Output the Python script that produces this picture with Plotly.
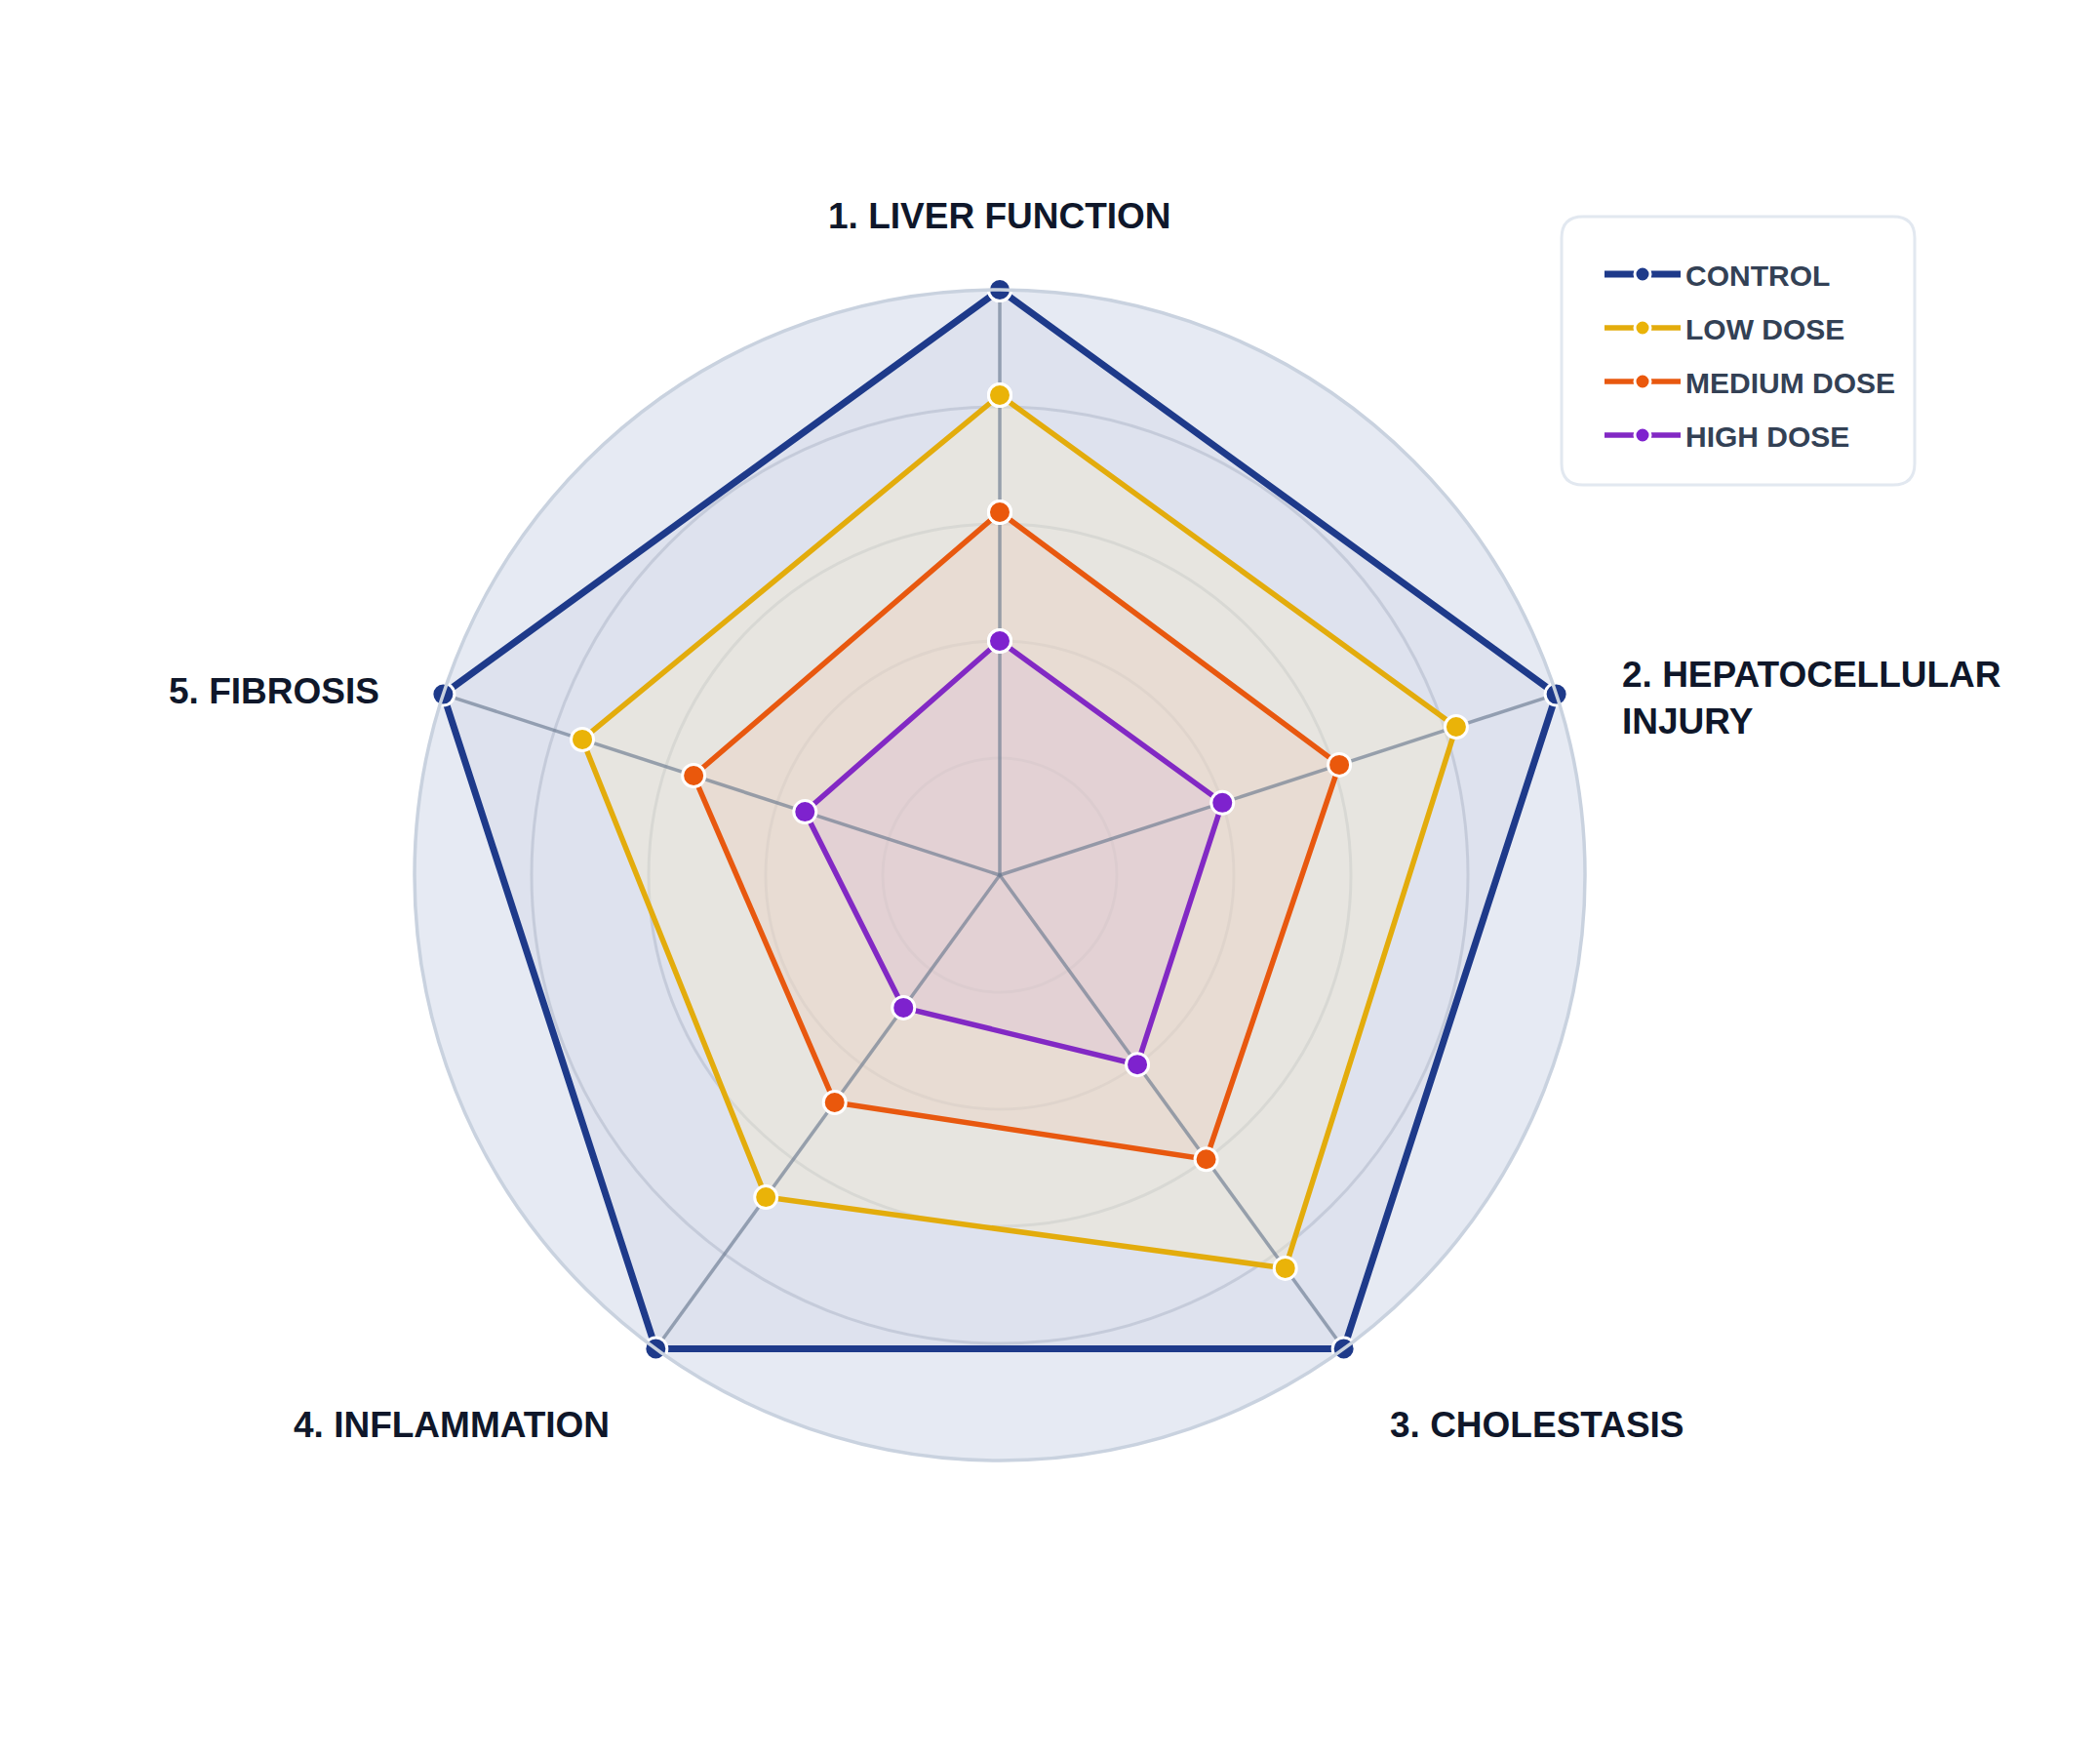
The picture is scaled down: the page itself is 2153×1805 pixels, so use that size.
import plotly.graph_objects as go

# axes / categories
categories = ["1. LIVER FUNCTION", "2. HEPATOCELLULAR<br>INJURY", "3. CHOLESTASIS",
              "4. INFLAMMATION", "5. FIBROSIS"]

# series values (0-100 scale)
control = [100, 100, 100, 100, 100]
low_dose = [82, 82, 83, 68, 75]
medium_dose = [62, 61, 60, 48, 55]
high_dose = [40, 40, 40, 28, 35]

series_names = ["CONTROL", "LOW DOSE", "MEDIUM DOSE", "HIGH DOSE"]
series_values = [control, low_dose, medium_dose, high_dose]
line_colors = ["#1e3a8a", "#e3ac0c", "#e8580f", "#8229c4"]
marker_colors = ["#1e3a8a", "#eab308", "#ea580c", "#7e22ce"]
fill_colors = ["rgba(30,58,138,0.04)", "rgba(245,236,203,0.4)",
               "rgba(234,208,192,0.4)", "rgba(215,184,214,0.3)"]
line_widths = [7, 5.5, 5.5, 5.5]

W, H = 2153, 1805
CX, CY, R = 1017, 889, 600  # polar centre / radius in px

fig = go.Figure()

# 1) filled areas
for i, name in enumerate(series_names):
    vals = series_values[i]
    fig.add_trace(go.Scatterpolar(
        r=vals + vals[:1], theta=categories + categories[:1],
        mode="none", fill="toself", fillcolor=fill_colors[i],
        showlegend=False, hoverinfo="skip",
    ))

# 2) spokes on top of the fills
for cat in categories:
    fig.add_trace(go.Scatterpolar(
        r=[0, 100], theta=[cat, cat], mode="lines",
        line=dict(color="rgba(100,116,139,0.62)", width=3.5),
        showlegend=False, hoverinfo="skip",
    ))

# 3) outlines + markers
for i, name in enumerate(series_names):
    vals = series_values[i]
    fig.add_trace(go.Scatterpolar(
        r=vals + vals[:1], theta=categories + categories[:1],
        name=name, legendgroup=name,
        mode="lines+markers",
        line=dict(color=line_colors[i], width=line_widths[i]),
        marker=dict(size=23, color=marker_colors[i], line=dict(color="white", width=3)),
    ))

# axis labels as annotations (px positions)
label_pos = [(CX, 213, "center"), (1653, 707, "left"), (1415, 1452, "left"),
             (619, 1452, "right"), (383, 701, "right")]
for text, (lx, ly, anchor) in zip(categories, label_pos):
    fig.add_annotation(x=lx / W, y=1 - ly / H, xref="paper", yref="paper",
                       text=text, showarrow=False, xanchor=anchor, yanchor="middle",
                       align="left",
                       font=dict(size=37, color="#0f172a", weight="bold"))


# rounded legend box (drawn as a shape)
def rounded_box(x0, y0, x1, y1, rad):
    px = lambda v: v / W
    py = lambda v: 1 - v / H
    return (f"M {px(x0 + rad)},{py(y0)} L {px(x1 - rad)},{py(y0)} "
            f"Q {px(x1)},{py(y0)} {px(x1)},{py(y0 + rad)} L {px(x1)},{py(y1 - rad)} "
            f"Q {px(x1)},{py(y1)} {px(x1 - rad)},{py(y1)} L {px(x0 + rad)},{py(y1)} "
            f"Q {px(x0)},{py(y1)} {px(x0)},{py(y1 - rad)} L {px(x0)},{py(y0 + rad)} "
            f"Q {px(x0)},{py(y0)} {px(x0 + rad)},{py(y0)} Z")


fig.add_shape(type="path", xref="paper", yref="paper",
              path=rounded_box(1593, 214, 1955, 489, 22),
              fillcolor="white", line=dict(color="#e2e8f0", width=3), layer="below")

fig.update_layout(
    width=W, height=H,
    margin=dict(l=0, r=0, t=0, b=0),
    paper_bgcolor="white",
    font=dict(family="Liberation Sans, Arial, sans-serif"),
    polar=dict(
        domain=dict(x=[(CX - R) / W, (CX + R) / W], y=[1 - (CY + R) / H, 1 - (CY - R) / H]),
        bgcolor="#e6eaf3",
        angularaxis=dict(
            direction="clockwise", rotation=90,
            showline=True, linecolor="#c9d2df", linewidth=3.5,
            showgrid=False, showticklabels=False, ticks="",
        ),
        radialaxis=dict(
            range=[0, 100], tickvals=[20, 40, 60, 80, 100],
            showticklabels=False, ticks="", showline=False,
            gridcolor="rgba(148,155,175,0.3)", gridwidth=2.5,
        ),
    ),
    showlegend=True,
    legend=dict(
        x=1632 / W, y=1 - 247 / H, xanchor="left", yanchor="top",
        bgcolor="rgba(0,0,0,0)", borderwidth=0,
        tracegroupgap=13, itemwidth=78,
        font=dict(size=30, color="#334155", weight="bold"),
    ),
)

fig.write_html("out.html")
